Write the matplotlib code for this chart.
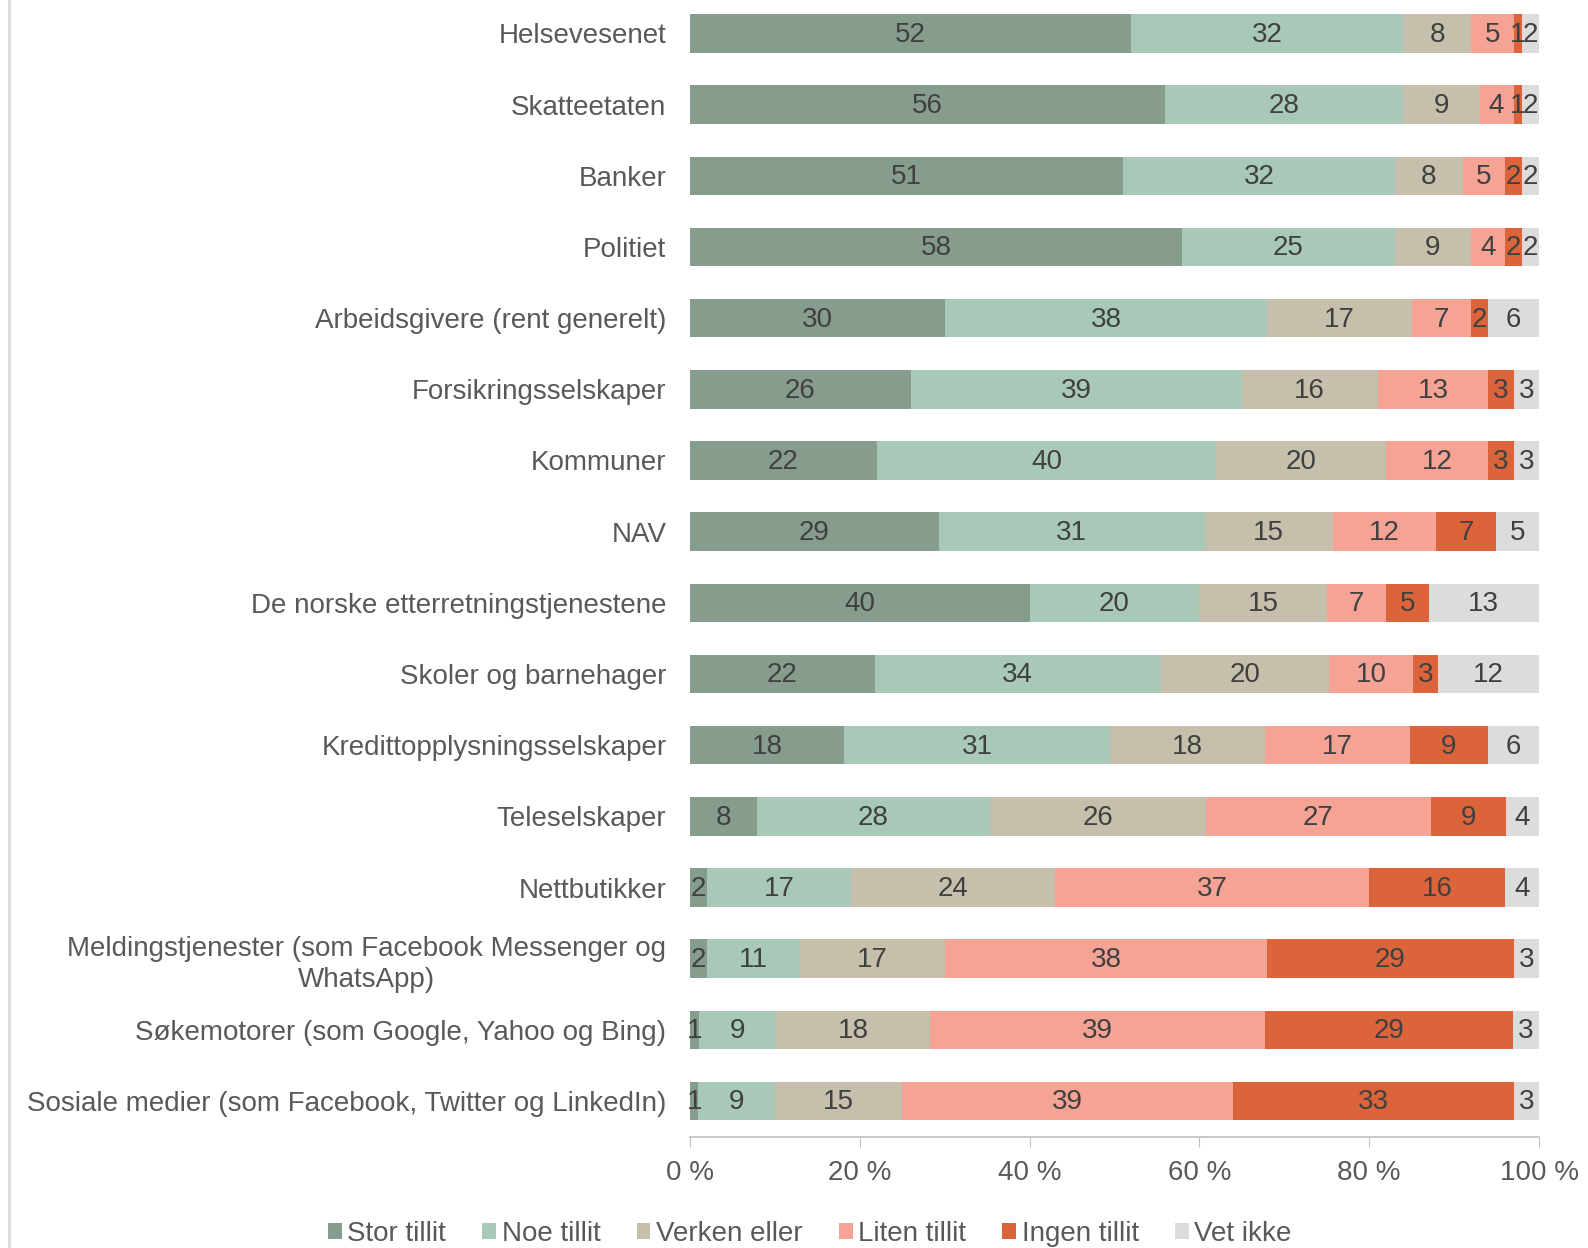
import matplotlib
matplotlib.use("Agg")
import matplotlib.pyplot as plt
import numpy as np

categories = [
    "Helsevesenet",
    "Skatteetaten",
    "Banker",
    "Politiet",
    "Arbeidsgivere (rent generelt)",
    "Forsikringsselskaper",
    "Kommuner",
    "NAV",
    "De norske etterretningstjenestene",
    "Skoler og barnehager",
    "Kredittopplysningsselskaper",
    "Teleselskaper",
    "Nettbutikker",
    "Meldingstjenester (som Facebook Messenger og\nWhatsApp)",
    "Søkemotorer (som Google, Yahoo og Bing)",
    "Sosiale medier (som Facebook, Twitter og LinkedIn)",
]
series_names = ["Stor tillit", "Noe tillit", "Verken eller", "Liten tillit", "Ingen tillit", "Vet ikke"]
stor_tillit  = [52, 56, 51, 58, 30, 26, 22, 29, 40, 22, 18, 8, 2, 2, 1, 1]
noe_tillit   = [32, 28, 32, 25, 38, 39, 40, 31, 20, 34, 31, 28, 17, 11, 9, 9]
verken_eller = [8, 9, 8, 9, 17, 16, 20, 15, 15, 20, 18, 26, 24, 17, 18, 15]
liten_tillit = [5, 4, 5, 4, 7, 13, 12, 12, 7, 10, 17, 27, 37, 38, 39, 39]
ingen_tillit = [1, 1, 2, 2, 2, 3, 3, 7, 5, 3, 9, 9, 16, 29, 29, 33]
vet_ikke     = [2, 2, 2, 2, 6, 3, 3, 5, 13, 12, 6, 4, 4, 3, 3, 3]
tick_labels = ["0 %", "20 %", "40 %", "60 %", "80 %", "100 %"]

colors = ["#869d8e", "#a8c9b8", "#c6bfab", "#f4a394", "#dc643a", "#dcdcdc"]

data = np.array([stor_tillit, noe_tillit, verken_eller, liten_tillit, ingen_tillit, vet_ikke], dtype=float)
totals = data.sum(axis=0)
shares = data / totals * 100

font = "Liberation Sans"
plt.rcParams["font.family"] = [font, "DejaVu Sans"]
FS = 20

fig = plt.figure(figsize=(15.88, 12.48), dpi=100)
ax_bottom_px = 1136.6
ax_top_px = -2.1
ax = fig.add_axes([690 / 1588, (1248 - ax_bottom_px) / 1248, (1539 - 690) / 1588,
                   (ax_bottom_px - ax_top_px) / 1248])

y = np.arange(len(categories))
left = np.zeros(len(categories))
for i, name in enumerate(series_names):
    ax.barh(y, shares[i], left=left, height=0.54, color=colors[i], label=name, edgecolor="none")
    for j in range(len(categories)):
        ax.text(left[j] + shares[i][j] / 2, y[j] + 0.02, f"{int(data[i][j])}",
                ha="center", va="center", fontsize=FS, color="#404040")
    left += shares[i]

ax.set_ylim(len(categories) - 0.5, -0.5)
ax.set_xlim(0, 100)
ax.set_yticks(y)
ax.set_yticklabels(categories, fontsize=FS, color="#595959", linespacing=1.25)
ax.set_xticks([0, 20, 40, 60, 80, 100])
ax.set_xticklabels(tick_labels, fontsize=FS, color="#595959")
ax.tick_params(axis="y", length=0, pad=17)
ax.tick_params(axis="x", length=7, color="#bfbfbf", pad=10)
for lbl in ax.get_yticklabels():
    lbl.set_multialignment("center")
for s in ["top", "right", "left"]:
    ax.spines[s].set_visible(False)
ax.spines["bottom"].set_color("#bfbfbf")
ax.spines["bottom"].set_linewidth(1.2)

fig.legend(loc="center", bbox_to_anchor=(0.51, 1 - 1234 / 1248), ncol=6, frameon=False,
           fontsize=FS, handlelength=0.5, handleheight=0.5, handletextpad=0.2,
           columnspacing=1.3, labelcolor="#595959")

fig.add_artist(plt.Line2D([8.5 / 1588, 8.5 / 1588], [0, 1], transform=fig.transFigure,
                          color="#d9d9d9", linewidth=2))

fig.savefig("out.png", dpi=100)
